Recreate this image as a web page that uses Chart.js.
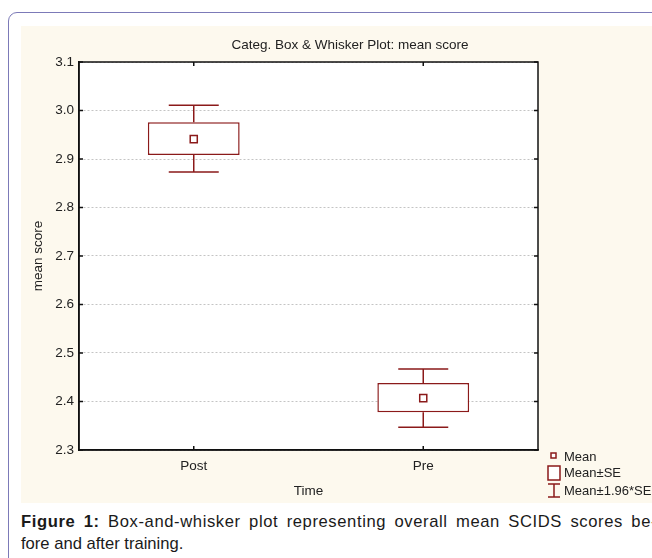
<!DOCTYPE html>
<html>
<head>
<meta charset="utf-8">
<script src="https://cdn.jsdelivr.net/npm/chart.js@4.4.0/dist/chart.umd.min.js"></script>
<style>
  html, body { margin: 0; padding: 0; background: #fff; overflow: hidden; width: 652px; height: 558px; }
  #frame {
    position: absolute; left: 8px; top: 12px; width: 700px; height: 620px;
    border: 1.5px solid #7c7ab8; border-radius: 9px; box-sizing: border-box;
  }
  #panel {
    position: absolute; left: 21px; top: 26px; width: 658px; height: 477px;
    background: #fdf9ee;
  }
  #caption {
    position: absolute; left: 21px; top: 510.5px; white-space: nowrap;
    font-family: "Liberation Sans", Arial, sans-serif; font-size: 16.6px;
    line-height: 22.5px; color: #1a1a1a;
  }
  #caption .first { letter-spacing: 0.6px; word-spacing: 3.2px; }
</style>
</head>
<body>
<div id="frame"></div>
<div id="panel"><canvas id="myChart" width="658" height="477"></canvas></div>
<div id="caption"><span class="first"><b>Figure 1:</b> Box-and-whisker plot representing overall mean SCIDS scores be-</span><br>fore and after training.</div>
<script>
// 資料
const categories = ["Post", "Pre"];
const means = [2.941, 2.407];
const seLow = [2.908, 2.378];
const seHigh = [2.976, 2.438];
const ciLow = [2.873, 2.347];
const ciHigh = [3.011, 2.467];
const yTickValues = [2.3, 2.4, 2.5, 2.6, 2.7, 2.8, 2.9, 3.0, 3.1];
const legendLabels = ["Mean", "Mean\u00b1SE", "Mean\u00b11.96*SE"];

const MAROON = "#8b1a1a";
const FONT = "'Liberation Sans', Arial, sans-serif";

// 鬚線、外框、內向刻度、圖例
const boxPlotExtras = {
  id: "boxPlotExtras",
  beforeDraw(chart) {
    // 繪圖區白底（在格線之前）
    const { ctx, chartArea: a } = chart;
    ctx.save();
    ctx.fillStyle = "#fff";
    ctx.fillRect(a.left, a.top, a.right - a.left, a.bottom - a.top);
    ctx.restore();
  },
  afterDatasetsDraw(chart) {
    const { ctx } = chart;
    const x = chart.scales.x;
    const y = chart.scales.y;
    ctx.save();
    ctx.strokeStyle = MAROON;
    ctx.lineWidth = 1.5;
    categories.forEach((c, i) => {
      const px = x.getPixelForValue(i);
      const segs = [
        [seHigh[i], ciHigh[i]],
        [seLow[i], ciLow[i]],
      ];
      segs.forEach(([from, to]) => {
        const y0 = y.getPixelForValue(from);
        const y1 = y.getPixelForValue(to);
        ctx.beginPath();
        ctx.moveTo(px, y0);
        ctx.lineTo(px, y1);
        ctx.moveTo(px - 25, y1);
        ctx.lineTo(px + 25, y1);
        ctx.stroke();
      });
    });
    ctx.restore();
  },
  afterDraw(chart) {
    const { ctx, chartArea: a } = chart;
    const x = chart.scales.x;
    const y = chart.scales.y;
    ctx.save();
    // 外框
    ctx.strokeStyle = "#111";
    ctx.lineWidth = 1.5;
    ctx.strokeRect(a.left, a.top, a.right - a.left, a.bottom - a.top);
    // 內向刻度
    ctx.beginPath();
    yTickValues.forEach((v) => {
      const py = y.getPixelForValue(v);
      ctx.moveTo(a.left, py);
      ctx.lineTo(a.left + 4, py);
      ctx.moveTo(a.right, py);
      ctx.lineTo(a.right - 4, py);
    });
    categories.forEach((c, i) => {
      const px = x.getPixelForValue(i);
      ctx.moveTo(px, a.bottom);
      ctx.lineTo(px, a.bottom - 4);
      ctx.moveTo(px, a.top);
      ctx.lineTo(px, a.top + 4);
    });
    ctx.stroke();

    // 圖例
    const lx = a.right + 10;
    const ly = a.bottom;
    ctx.strokeStyle = MAROON;
    ctx.lineWidth = 1.5;
    ctx.fillStyle = "#fff";
    ctx.fillRect(lx + 3, ly + 3, 5, 5);
    ctx.strokeRect(lx + 3, ly + 3, 5, 5);
    ctx.fillRect(lx, ly + 16, 12, 14);
    ctx.strokeRect(lx, ly + 16, 12, 14);
    ctx.beginPath();
    ctx.moveTo(lx, ly + 34);
    ctx.lineTo(lx + 12, ly + 34);
    ctx.moveTo(lx + 6, ly + 34);
    ctx.lineTo(lx + 6, ly + 47);
    ctx.moveTo(lx, ly + 47);
    ctx.lineTo(lx + 12, ly + 47);
    ctx.stroke();

    ctx.fillStyle = "#222";
    ctx.font = "13px " + FONT;
    ctx.textBaseline = "middle";
    ctx.textAlign = "left";
    const textY = [7, 23, 41];
    legendLabels.forEach((t, i) => {
      ctx.fillText(t, lx + 16, ly + textY[i]);
    });
    ctx.restore();
  },
};

const canvas = document.querySelector("#myChart");
const ctx = canvas.getContext("2d");

new Chart(ctx, {
  data: {
    labels: categories,
    datasets: [
      {
        type: "bar",
        label: "Mean\u00b1SE",
        data: categories.map((c, i) => [seLow[i], seHigh[i]]),
        backgroundColor: "#fff",
        borderColor: MAROON,
        borderWidth: 1.5,
        borderSkipped: false,
        barPercentage: 0.4,
        categoryPercentage: 1,
        order: 2,
      },
      {
        type: "line",
        label: "Mean",
        data: means,
        showLine: false,
        pointStyle: "rect",
        pointRadius: 5,
        pointBackgroundColor: "#fff",
        pointBorderColor: MAROON,
        pointBorderWidth: 1.5,
        order: 1,
      },
    ],
  },
  options: {
    responsive: false,
    animation: false,
    devicePixelRatio: 1,
    layout: { padding: 0 },
    plugins: {
      legend: { display: false },
      tooltip: { enabled: false },
      title: {
        display: true,
        text: "Categ. Box & Whisker Plot: mean score",
        color: "#222",
        font: { family: FONT, size: 13.5, weight: "normal" },
        padding: { top: 10.9, bottom: 8.9 },
      },
    },
    scales: {
      x: {
        type: "category",
        offset: true,
        grid: { display: false, drawTicks: false },
        border: { color: "#111", width: 1.5 },
        ticks: { color: "#222", font: { family: FONT, size: 13.5 }, padding: 8 },
        title: {
          display: true,
          text: "Time",
          color: "#222",
          font: { family: FONT, size: 13.5 },
          padding: { top: 0, bottom: 4 },
        },
        afterFit(scale) {
          scale.height = 53;
        },
      },
      y: {
        min: 2.3,
        max: 3.1,
        grid: { color: "#c4c4c4", lineWidth: 1, drawTicks: false },
        border: { color: "#111", width: 1.5, dash: [2, 2] },
        ticks: {
          color: "#222",
          font: { family: FONT, size: 13.5 },
          padding: 5,
          callback: (v) => Number(v).toFixed(1),
        },
        afterBuildTicks(scale) {
          scale.ticks = yTickValues.map((v) => ({ value: v }));
        },
        title: {
          display: true,
          text: "mean score",
          color: "#222",
          font: { family: FONT, size: 13.5 },
          padding: { top: 8.9, bottom: 0 },
        },
        afterFit(scale) {
          scale.width = 58;
        },
      },
      // 右側留白給圖例（標題仍以整張畫布置中）
      yRight: {
        position: "right",
        min: 2.3,
        max: 3.1,
        grid: { display: false, drawTicks: false },
        border: { display: false },
        ticks: { display: false },
        afterFit(scale) {
          scale.width = 141;
        },
      },
    },
  },
  plugins: [boxPlotExtras],
});
</script>
</body>
</html>
